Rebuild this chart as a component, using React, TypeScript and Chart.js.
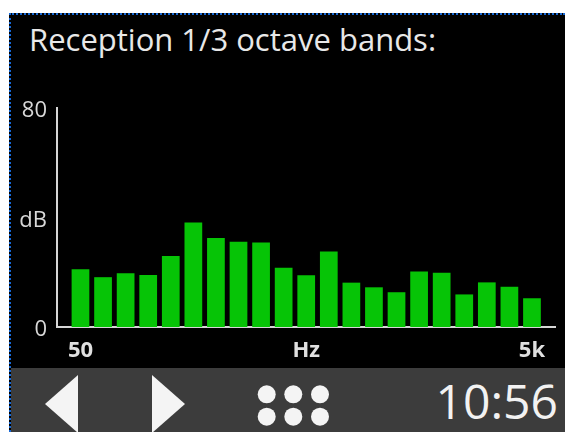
import React, { useEffect, useRef } from "react";
import { Chart, registerables } from "chart.js";

Chart.register(...registerables);

const title = "Reception 1/3 octave bands:";
const clock = "10:56";
const bands = ["50", "63", "80", "100", "125", "160", "200", "250", "315", "400", "500", "630", "800", "1k", "1.25k", "1.6k", "2k", "2.5k", "3.15k", "4k", "5k"];
const levels = [21.1, 18.2, 19.6, 19.0, 25.9, 38.2, 32.5, 31.1, 30.9, 21.6, 18.9, 27.6, 16.2, 14.5, 12.7, 20.3, 19.8, 11.9, 16.3, 14.7, 10.5];
const xTickIndices = [0, 10, 20];
const xTickLabels = ["50", "Hz", "5k"];
const yTickValues = [0, 40, 80];
const yTickLabels = ["0", "dB", "80"];

const FONT = "'Open Sans', 'Noto Sans', sans-serif";

export default function App() {
  const ref = useRef<HTMLCanvasElement | null>(null);

  useEffect(() => {
    const canvas = ref.current;
    if (!canvas) return;
    const chart = new Chart(canvas, {
      type: "bar",
      data: {
        datasets: [
          {
            label: "Level",
            data: levels.map((v, i) => ({ x: i, y: v, band: bands[i] })),
            backgroundColor: "#06c406",
            borderWidth: 0,
            categoryPercentage: 1,
            barPercentage: 0.785,
          },
        ],
      },
      options: {
        responsive: false,
        animation: false,
        devicePixelRatio: 1,
        layout: { padding: { left: 0, right: 10, top: 108, bottom: 65 } },
        plugins: { legend: { display: false }, tooltip: { enabled: false }, title: { display: false } },
        scales: {
          x: {
            type: "linear",
            offset: false,
            min: -1.04,
            max: 21.02,
            grid: { display: false, drawTicks: false, offset: false },
            border: { display: true, color: "#d6d6d6", width: 2 },
            afterBuildTicks: (scale: any) => {
              scale.ticks = xTickIndices.map((v) => ({ value: v }));
            },
            afterFit: (scale: any) => {
              scale.height = 40;
            },
            ticks: {
              color: "#e0e0e0",
              font: { family: FONT, size: 22, weight: "bold" },
              padding: 11,
              maxRotation: 0,
              autoSkip: false,
              callback: (value: any) => {
                const k = xTickIndices.indexOf(Number(value));
                return k >= 0 ? xTickLabels[k] : "";
              },
            },
          },
          y: {
            type: "linear",
            min: 0,
            max: 80,
            grid: { display: false, drawTicks: false },
            border: { display: true, color: "#d6d6d6", width: 2 },
            afterBuildTicks: (scale: any) => {
              scale.ticks = yTickValues.map((v) => ({ value: v }));
            },
            afterFit: (scale: any) => {
              scale.width = 57;
            },
            ticks: {
              color: "#d8d8d8",
              font: { family: FONT, size: 22 },
              padding: 10,
              labelOffset: 3,
              autoSkip: false,
              callback: (value: any) => {
                const k = yTickValues.indexOf(Number(value));
                return k >= 0 ? yTickLabels[k] : "";
              },
            },
          },
        },
      },
    } as any);
    return () => chart.destroy();
  }, []);

  return (
    <div style={{ position: "fixed", left: 0, top: 0, width: 565, height: 432, background: "#fff", overflow: "hidden" }}>
      <div
        style={{
          position: "absolute",
          left: 9,
          top: 13,
          right: 0,
          bottom: 0,
          borderLeft: "2px dotted #1768d4",
          borderTop: "2px dotted #1768d4",
          background: "#000",
        }}
      />
      <div
        style={{
          position: "absolute",
          left: 29,
          top: 24,
          fontFamily: FONT,
          fontSize: 31,
          lineHeight: "31px",
          color: "#e8e8e8",
          whiteSpace: "nowrap",
        }}
      >
        {title}
      </div>
      <div style={{ position: "absolute", left: 11, top: 368, width: 554, height: 64, background: "#3c3c3c" }} />
      <svg width={565} height={432} style={{ position: "absolute", left: 0, top: 0 }}>
        <polygon points="78,375 45,404 78,433" fill="#f4f4f4" />
        <polygon points="152,375 185,404 152,433" fill="#f4f4f4" />
        {[266.7, 293.3, 320].map((cx) =>
          [394.3, 416.7].map((cy) => <circle key={cx + "-" + cy} cx={cx} cy={cy} r={9} fill="#f4f4f4" />)
        )}
      </svg>
      <div
        style={{
          position: "absolute",
          right: 7,
          top: 377,
          fontFamily: FONT,
          fontSize: 48,
          lineHeight: "48px",
          color: "#f2f2f2",
          whiteSpace: "nowrap",
        }}
      >
        {clock}
      </div>
      <canvas ref={ref} width={565} height={432} style={{ position: "absolute", left: 0, top: 0 }} />
    </div>
  );
}
